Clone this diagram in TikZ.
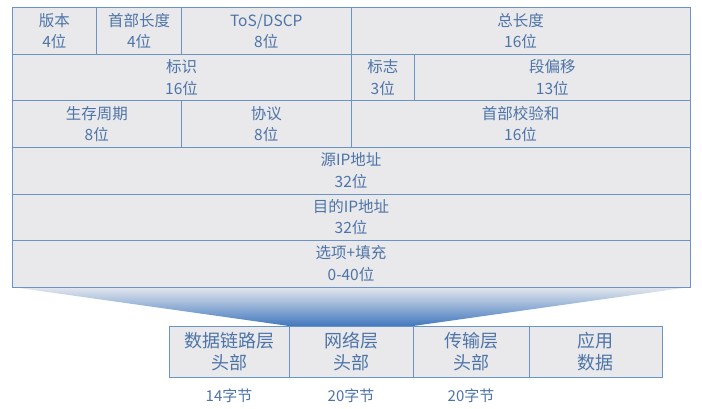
\documentclass[tikz,border=0pt]{standalone}
\usepackage{fontspec}
\newfontfamily\cjk{Noto Sans CJK SC}
\usepackage{xcolor}
\usepackage{tikz}
\usetikzlibrary{positioning, backgrounds}
\definecolor{cellfill}{RGB}{233, 233, 235}
\definecolor{cellline}{RGB}{107, 147, 198}
\definecolor{celltext}{RGB}{77, 116, 168}
\definecolor{funneltop}{RGB}{228, 232, 238}
\definecolor{funnelmid}{RGB}{150, 178, 214}
\definecolor{funnelbot}{RGB}{66, 120, 190}

\begin{document}
\begin{tikzpicture}[
    x=1pt, y=1pt,
    field/.style={draw=cellline, line width=1pt, fill=cellfill, text=celltext,
        minimum height=46.5pt, inner sep=0pt, outer sep=0pt, align=center,
        font=\cjk\fontsize{15.5}{21.5}\selectfont},
    layer/.style={field, minimum height=51pt, font=\cjk\fontsize{18}{22}\selectfont},
    bytes/.style={text=celltext, font=\cjk\fontsize{15}{18}\selectfont}
]
    \useasboundingbox (0,0) rectangle (702,408);

    % IP header, one bit = 21.1875pt
    \node[field, minimum width=84.75pt, anchor=north west] (ver) at (12,400) {版本\\4位};
    \node[field, minimum width=84.75pt, right=0pt of ver] (ihl) {首部长度\\4位};
    \node[field, minimum width=169.5pt, right=0pt of ihl] (tos) {ToS/DSCP\\8位};
    \node[field, minimum width=339pt, right=0pt of tos] (totlen) {总长度\\16位};

    \node[field, minimum width=339pt, below right=0pt of ver.south west] (ident) {标识\\16位};
    \node[field, minimum width=63.5625pt, right=0pt of ident] (flags) {标志\\3位};
    \node[field, minimum width=275.4375pt, right=0pt of flags] (fragoff) {段偏移\\13位};

    \node[field, minimum width=169.5pt, below right=0pt of ident.south west] (ttl) {生存周期\\8位};
    \node[field, minimum width=169.5pt, right=0pt of ttl] (proto) {协议\\8位};
    \node[field, minimum width=339pt, right=0pt of proto] (chksum) {首部校验和\\16位};

    \node[field, minimum width=678pt, below right=0pt of ttl.south west] (src) {源IP地址\\32位};
    \node[field, minimum width=678pt, below=0pt of src] (dst) {目的IP地址\\32位};
    \node[field, minimum width=678pt, below=0pt of dst] (opt) {选项+填充\\0-40位};

    % Packet layers
    \node[layer, minimum width=120pt, anchor=north west] (link) at (169,82) {数据链路层\\头部};
    \node[layer, minimum width=124pt, right=0pt of link] (net) {网络层\\头部};
    \node[layer, minimum width=116pt, right=0pt of net] (trans) {传输层\\头部};
    \node[layer, minimum width=133pt, right=0pt of trans] (app) {应用\\数据};

    \node[bytes, below=8pt of link] (linkLen) {14字节};
    \node[bytes, below=8pt of net] (netLen) {20字节};
    \node[bytes, below=8pt of trans] (transLen) {20字节};

    % Funnel from header to network layer
    \begin{scope}[on background layer]
        \shade[top color=funneltop, middle color=funnelmid, bottom color=funnelbot]
            (opt.south west) -- (opt.south east) -- (net.north east) -- (net.north west) -- cycle;
    \end{scope}
\end{tikzpicture}
\end{document}
